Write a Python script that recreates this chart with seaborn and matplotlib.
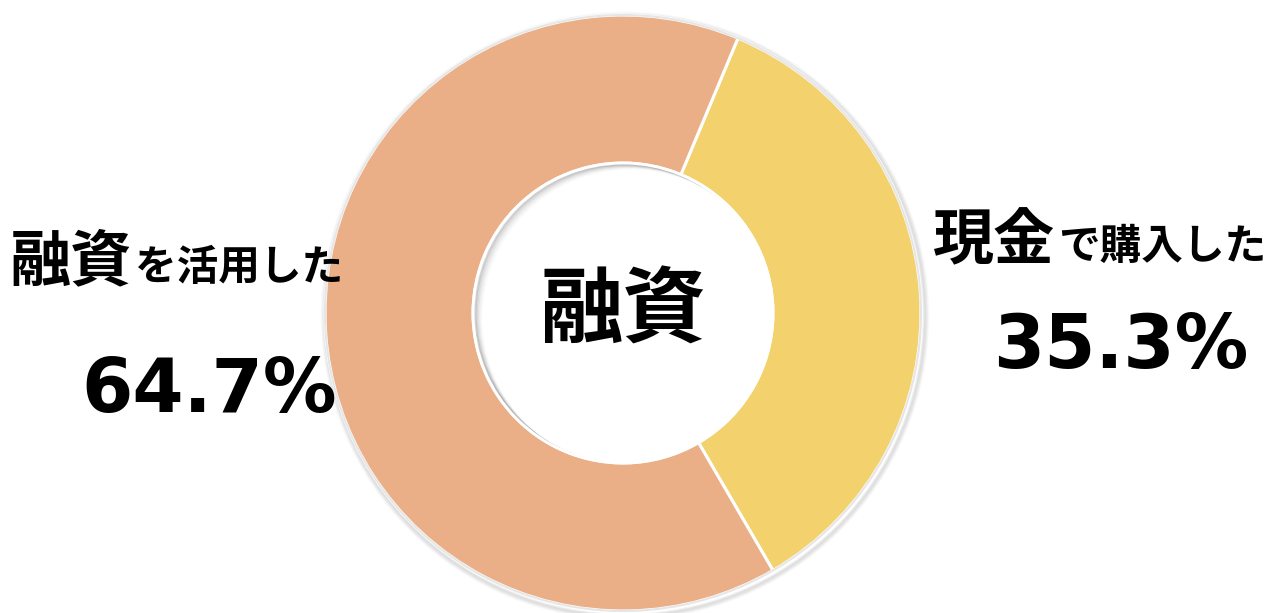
import matplotlib
matplotlib.use("Agg")
import matplotlib.pyplot as plt
import seaborn as sns
from matplotlib.patches import Circle

# Survey result: how the purchase was paid
categories = ["現金で購入した", "融資を活用した"]
shares = [35.3, 64.7]
share_labels = ["35.3%", "64.7%"]
colors = ["#F3D26D", "#EAAF87"]
center_title = "融資"

sns.set_theme(style="white")
plt.rcParams["font.family"] = ["Noto Sans CJK JP", "DejaVu Sans"]
plt.rcParams["text.color"] = "black"

W, H = 1273, 613
fig = plt.figure(figsize=(W / 100, H / 100), dpi=100)
ax = fig.add_axes([0, 0, 1, 1])

cx, cy = 623, H - 313
r_out, r_in = 298, 150

# soft shadow around the ring
for i, a in enumerate([0.05, 0.05, 0.04, 0.03, 0.02]):
    ax.add_patch(Circle((cx + 2, cy - 3), r_out + 1 + i, facecolor="none",
                        edgecolor="#000000", lw=2, alpha=a, zorder=1))
ax.pie(shares, colors=colors, startangle=67.3, counterclock=False,
       center=(cx, cy), radius=r_out,
       wedgeprops=dict(width=r_out - r_in, edgecolor="white", linewidth=2.2),
       frame=True)
ax.add_patch(Circle((cx, cy), r_out, facecolor="none", edgecolor="#e6e6e6",
                    lw=1.5, zorder=3))

# shadow cast into the hole along its upper-left rim
hole = Circle((cx, cy), r_in, facecolor="none", edgecolor="none")
ax.add_patch(hole)
for i, a in enumerate([0.12, 0.08, 0.06, 0.04, 0.025, 0.015]):
    s = Circle((cx + 2 + 1.2 * i, cy - 1 - 0.8 * i), r_in, facecolor="none",
               edgecolor="#000000", lw=2.2, alpha=a, zorder=4)
    ax.add_patch(s)
    s.set_clip_path(hole)
ax.add_patch(Circle((cx, cy), r_in, facecolor="none", edgecolor="white",
                    lw=2, zorder=5))

ax.set_xlim(0, W)
ax.set_ylim(0, H)
ax.set_aspect("equal")
ax.axis("off")

fig.canvas.draw()
renderer = fig.canvas.get_renderer()


def two_part_label(x, y, big, small, big_size, small_size):
    t1 = ax.text(x, y, big, fontsize=big_size, fontweight="bold", color="black",
                 ha="left", va="baseline", zorder=10)
    bb = t1.get_window_extent(renderer)
    ax.text(bb.x1 + 3, y, small, fontsize=small_size, fontweight="bold",
            color="black", ha="left", va="baseline", zorder=10)


two_part_label(10, H - 280, categories[1][:2], categories[1][2:], 44, 30)
two_part_label(933, H - 259, categories[0][:2], categories[0][2:], 44, 30)

ax.text(209, H - 412, share_labels[1], fontsize=53, fontweight="bold",
        family="DejaVu Sans", color="black", ha="center", va="baseline", zorder=10)
ax.text(1121, H - 368, share_labels[0], fontsize=53, fontweight="bold",
        family="DejaVu Sans", color="black", ha="center", va="baseline", zorder=10)

ax.text(cx, H - 312, center_title, fontsize=60, fontweight="bold", color="black",
        ha="center", va="center", zorder=10)

fig.savefig("out.png", dpi=100, facecolor="white")
